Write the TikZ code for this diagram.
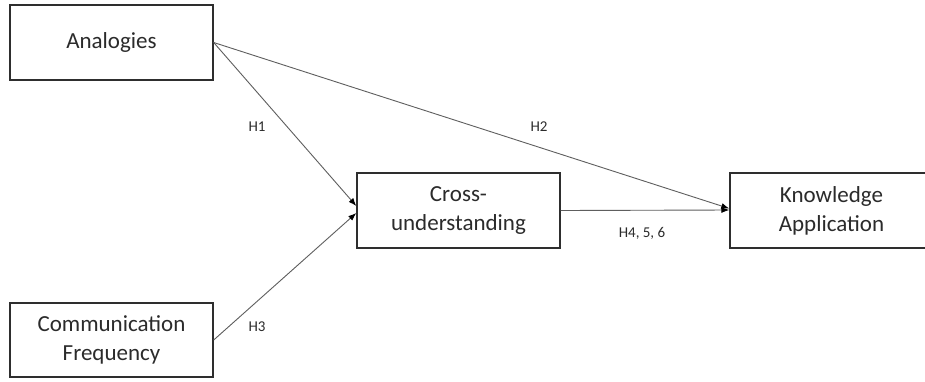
\documentclass[tikz,border=0pt]{standalone}
\usepackage{fontspec}
\setmainfont{Carlito}
\usetikzlibrary{arrows.meta}
\definecolor{boxline}{HTML}{2E2E2E}
\definecolor{arrline}{HTML}{5E5E5E}
\definecolor{txt}{HTML}{2B2B2B}
\begin{document}
\begin{tikzpicture}[x=1pt,y=-1pt,
    construct/.style={draw=boxline,line width=1.4pt,minimum width=203pt,minimum height=75pt,
        align=center,text=txt,font=\fontsize{23}{29}\selectfont,inner sep=0pt},
    hyp/.style={text=txt,font=\fontsize{15}{18}\selectfont,inner sep=0pt},
    path/.style={draw=arrline,line width=0.9pt,-{Latex[length=8pt,width=6pt,color=black]}}]
            \useasboundingbox[fill=white] (0,0) rectangle (925,381);
            \node[construct] (ana) at (111.5,42.5) {Analogies};
            \node[construct,minimum height=74pt] (comm) at (111.5,340) {Communication\\Frequency};
            \node[construct] (cross) at (458.5,210.5) {Cross-\\understanding};
            \node[construct] (know) at (831.5,210.5) {Knowledge\\Application};
            \draw[path] (ana.east) -- ([yshift=4.5pt]cross.west);
            \draw[path] (comm.east) -- ([yshift=-2.5pt]cross.west);
            \draw[path] (ana.east) -- ([yshift=2pt]know.west);
            \draw[path] (cross.east) -- ([yshift=0.5pt]know.west);
            \node[hyp] (h1) at (257,127) {H1};
            \node[hyp] (h2) at (539,127) {H2};
            \node[hyp] (h3) at (257,327) {H3};
            \node[hyp] (h456) at (642,233) {H4, 5, 6};
        \end{tikzpicture}
\end{document}
